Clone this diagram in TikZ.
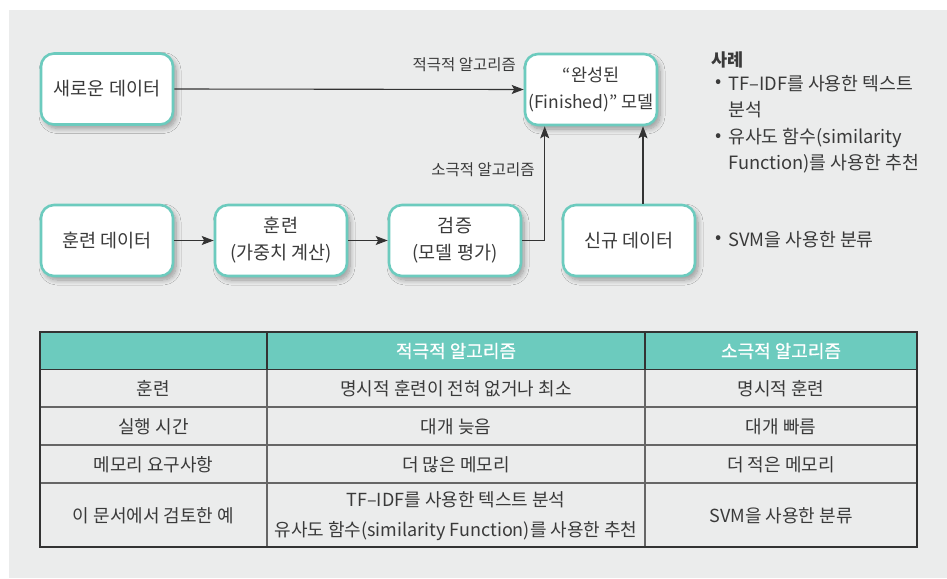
\documentclass[tikz,border=0pt]{standalone}
\usepackage{fontspec}
\setmainfont{Noto Sans CJK KR}
\newfontfamily\semibold[FakeBold=0.7]{Noto Sans CJK KR}
\usetikzlibrary{arrows.meta,shadows.blur,calc}
\definecolor{bg}{HTML}{EBECEC}
\definecolor{tealc}{HTML}{6CCBBE}
\definecolor{txt}{HTML}{3A3A3A}
\definecolor{ln}{HTML}{333333}
\definecolor{grid}{HTML}{666666}
\begin{document}
\begin{tikzpicture}[x=1pt,y=-1pt,
  box/.style={draw=tealc, line width=2.6pt, fill=white, rounded corners=13pt,
    minimum width=132pt, minimum height=71pt, align=center, text=txt,
    font=\fontsize{18.5}{27}\selectfont, inner sep=0pt,
    blur shadow={shadow xshift=3pt, shadow yshift=-4pt, shadow blur steps=8, shadow opacity=35, shadow blur radius=5pt}},
  arr/.style={draw=ln, line width=1.1pt, -{Stealth[length=12pt,width=9pt,inset=2.5pt]}},
  lbl/.style={text=txt, font=\fontsize{15.5}{17}\selectfont, inner sep=0pt},
  side/.style={text=txt, font=\fontsize{18.3}{20}\selectfont, inner sep=0pt, anchor=west},
  cell/.style={text=txt, font=\fontsize{18}{30}\selectfont, inner sep=0pt, align=center},
  head/.style={text=white, font=\fontsize{18}{20}\semibold\selectfont, inner sep=0pt},
  gridline/.style={draw=grid, line width=1.2pt}
]
\useasboundingbox (0,0) rectangle (947,578);
\fill[bg] (9,10) rectangle (947,578);

% boxes
\node[box] (nd) at (107,89) {새로운 데이터};
\node[box, font=\fontsize{17.5}{27}\selectfont] (fm) at (591,89.5) {“완성된\\(Finished)” 모델};
\node[box] (td) at (107,240.5) {훈련 데이터};
\node[box] (tr) at (281,240.5) {훈련\\(가중치 계산)};
\node[box] (vl) at (455,240.5) {검증\\(모델 평가)};
\node[box] (nw) at (629,240.5) {신규 데이터};

% connectors
\draw[arr] (nd.east) -- (fm.west);
\draw[arr] (td.east) -- (tr.west);
\draw[arr] (tr.east) -- (vl.west);
\draw[arr] (vl.east) -| ([xshift=21pt]fm.south west);
\draw[arr] ([xshift=14pt]nw.north) -- ([xshift=14pt]nw.north |- fm.south);

\node[lbl, anchor=east] (l1) at (516,65) {적극적 알고리즘};
\node[lbl] (l2) at (483,170) {소극적 알고리즘};

% side text
\node[side, font=\fontsize{17.5}{19}\selectfont\bfseries] (s0) at (711,60) {사례};
\node[side] (b1) at (715,84) {•};
\node[side] (s1) at (728,84) {TF–IDF를 사용한 텍스트};
\node[side] (s2) at (728,110) {분석};
\node[side] (b2) at (715,138) {•};
\node[side] (s3) at (728,138) {유사도 함수(similarity};
\node[side] (s4) at (728,164) {Function)를 사용한 추천};
\node[side] (b3) at (715,240) {•};
\node[side] (s5) at (728,240) {SVM을 사용한 분류};

% table
\fill[tealc] (40,332) rectangle (917,369.5);
\draw[gridline] (40,407) -- (917,407);
\draw[gridline] (40,445) -- (917,445);
\draw[gridline] (40,483) -- (917,483);
\draw[gridline] (267,369.5) -- (267,547);
\draw[gridline] (645,369.5) -- (645,547);
\draw[draw=ln, line width=1.2pt] (267,332) -- (267,369.5) (645,332) -- (645,369.5) (40,369.5) -- (917,369.5);
\draw[draw=ln, line width=1.3pt] (40,332) rectangle (917,547);

\node[head] (h2) at (456,351) {적극적 알고리즘};
\node[head] (h3) at (781,351) {소극적 알고리즘};

\node[cell] (c11) at (153.5,388.5) {훈련};
\node[cell] (c12) at (456,388.5) {명시적 훈련이 전혀 없거나 최소};
\node[cell] (c13) at (781,388.5) {명시적 훈련};
\node[cell] (c21) at (153.5,426.5) {실행 시간};
\node[cell] (c22) at (456,426.5) {대개 늦음};
\node[cell] (c23) at (781,426.5) {대개 빠름};
\node[cell] (c31) at (153.5,464.5) {메모리 요구사항};
\node[cell] (c32) at (456,464.5) {더 많은 메모리};
\node[cell] (c33) at (781,464.5) {더 적은 메모리};
\node[cell] (c41) at (153.5,516) {이 문서에서 검토한 예};
\node[cell] (c42) at (456,516) {TF–IDF를 사용한 텍스트 분석\\유사도 함수(similarity Function)를 사용한 추천};
\node[cell] (c43) at (781,516) {SVM을 사용한 분류};
\end{tikzpicture}
\end{document}
